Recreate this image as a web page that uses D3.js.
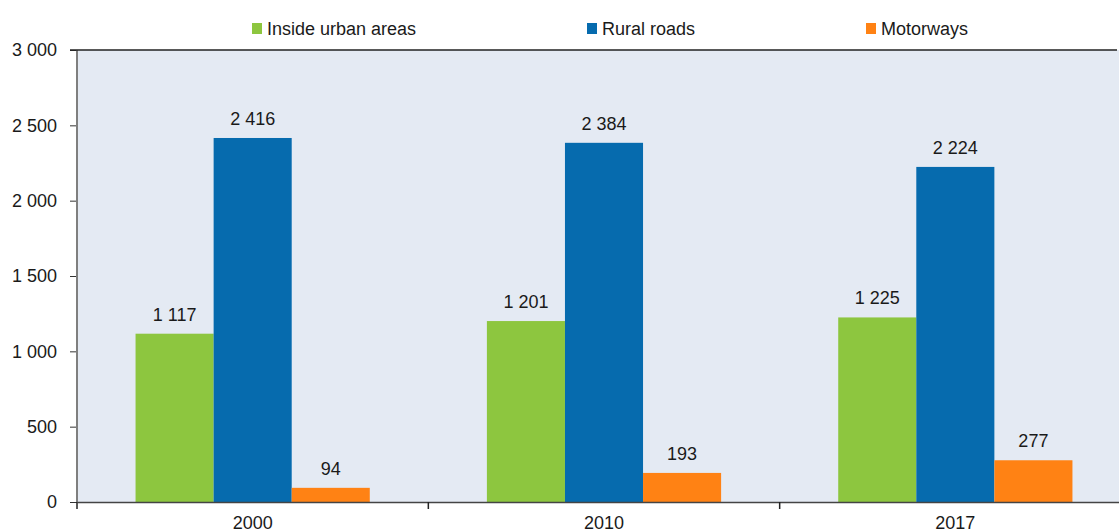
<!DOCTYPE html>
<html>
<head>
<meta charset="utf-8">
<script src="https://cdn.jsdelivr.net/npm/d3@7"></script>
<style>
  body { margin: 0; background: #fff; overflow: hidden; }
  text { font-family: "Liberation Sans", Arial, sans-serif; fill: #1a1a1a; }
</style>
</head>
<body>
<script>
// data
var years = ["2000", "2010", "2017"];
var seriesNames = ["Inside urban areas", "Rural roads", "Motorways"];
var urban = [1117, 1201, 1225];
var rural = [2416, 2384, 2224];
var motorways = [94, 193, 277];
var yTicks = [0, 500, 1000, 1500, 2000, 2500, 3000];
var colors = ["#8dc63f", "#066bae", "#ff8214"];

var width = 1119, height = 532;
var margin = {left: 77, top: 50, right: -12, bottom: 30};

var series = [urban, rural, motorways];
var fmt = function(v) { return d3.format(",")(v).replace(/,/g, " "); };

var svg = d3.select("body").append("svg")
    .attr("width", width)
    .attr("height", height);

var x0 = d3.scaleBand()
    .domain(years)
    .range([margin.left, width - margin.right]);

// bars take about two thirds of each category
var x1 = d3.scaleBand()
    .domain(seriesNames)
    .range([0, x0.bandwidth()])
    .paddingOuter(0.75)
    .paddingInner(0);

var y = d3.scaleLinear()
    .domain([0, 3000])
    .range([height - margin.bottom, margin.top]);

// plot background
svg.append("rect")
    .attr("x", margin.left)
    .attr("y", y(3000))
    .attr("width", width - margin.right - margin.left)
    .attr("height", y(0) - y(3000))
    .attr("fill", "#e4eaf3");

// bars
var groups = svg.selectAll("g.year")
    .data(years)
    .enter().append("g")
    .attr("class", "year")
    .attr("transform", function(d) { return "translate(" + x0(d) + ",0)"; });

groups.selectAll("rect")
    .data(function(d, i) {
        return seriesNames.map(function(s, j) { return {name: s, value: series[j][i], idx: j}; });
    })
    .enter().append("rect")
    .attr("x", function(d) { return x1(d.name); })
    .attr("y", function(d) { return y(d.value); })
    .attr("width", x1.bandwidth())
    .attr("height", function(d) { return y(0) - y(d.value); })
    .attr("fill", function(d) { return colors[d.idx]; });

// value labels
groups.selectAll("text.val")
    .data(function(d, i) {
        return seriesNames.map(function(s, j) { return {name: s, value: series[j][i]}; });
    })
    .enter().append("text")
    .attr("class", "val")
    .attr("x", function(d) { return x1(d.name) + x1.bandwidth() / 2; })
    .attr("y", function(d) { return y(d.value) - 13; })
    .attr("text-anchor", "middle")
    .attr("font-size", "18px")
    .text(function(d) { return fmt(d.value); });

// y axis
var yAxis = svg.append("g")
    .attr("transform", "translate(" + margin.left + ",0)")
    .call(d3.axisLeft(y).tickValues(yTicks).tickSize(7).tickPadding(13).tickFormat(fmt));
yAxis.select(".domain").remove();
yAxis.selectAll(".tick line").attr("stroke", "#333");
yAxis.selectAll(".tick text")
    .attr("font-size", "18px")
    .attr("font-family", "Liberation Sans, Arial, sans-serif")
    .attr("fill", "#1a1a1a");

svg.append("line")
    .attr("x1", margin.left).attr("x2", margin.left)
    .attr("y1", y(3000)).attr("y2", y(0))
    .attr("stroke", "#7f7f7f").attr("stroke-width", 2);

// top border
svg.append("line")
    .attr("x1", margin.left - 7).attr("x2", width - 2)
    .attr("y1", y(3000)).attr("y2", y(3000))
    .attr("stroke", "#222").attr("stroke-width", 1.5);

// x axis
var xAxis = svg.append("g")
    .attr("transform", "translate(0," + y(0) + ")")
    .call(d3.axisBottom(x0).tickSize(0).tickPadding(14));
xAxis.select(".domain").attr("stroke", "#444").attr("stroke-width", 1.5);
xAxis.selectAll(".tick text")
    .attr("font-size", "18px")
    .attr("font-family", "Liberation Sans, Arial, sans-serif")
    .attr("fill", "#1a1a1a");

// category separators below the axis
svg.selectAll("line.sep")
    .data(years)
    .enter().append("line")
    .attr("class", "sep")
    .attr("x1", function(d) { return x0(d); })
    .attr("x2", function(d) { return x0(d); })
    .attr("y1", y(0))
    .attr("y2", y(0) + 7)
    .attr("stroke", "#222").attr("stroke-width", 1.5);

// legend
var legendX = [252, 587, 866];
var legend = svg.selectAll("g.legend")
    .data(seriesNames)
    .enter().append("g")
    .attr("class", "legend")
    .attr("transform", function(d, i) { return "translate(" + legendX[i] + ",23)"; });

legend.append("rect")
    .attr("width", 10).attr("height", 11)
    .attr("fill", function(d, i) { return colors[i]; });

legend.append("text")
    .attr("x", 15)
    .attr("y", 12)
    .attr("font-size", "18px")
    .text(function(d) { return d; });
</script>
</body>
</html>
